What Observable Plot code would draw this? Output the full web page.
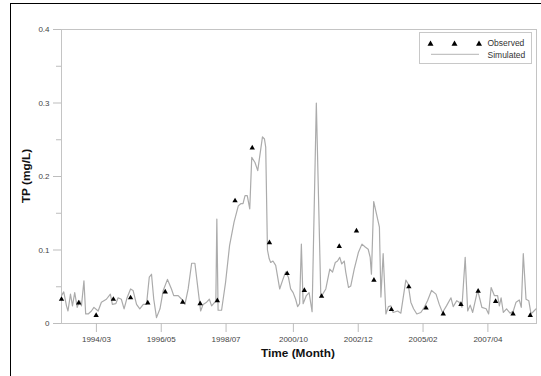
<!DOCTYPE html>
<html>
<head>
<meta charset="utf-8">
<script src="https://cdn.jsdelivr.net/npm/d3@7"></script>
<script src="https://cdn.jsdelivr.net/npm/@observablehq/plot@0.6"></script>
<style>
  html, body { margin: 0; padding: 0; background: #fff; overflow: hidden; }
  #wrap { position: relative; width: 541px; height: 376px; overflow: hidden; font-family: "Liberation Sans", Arial, sans-serif; }
  #border { position: absolute; left: 10px; top: 3px; width: 600px; height: 450px; border-left: 1.5px solid #000; border-top: 1.5px solid #000; pointer-events: none; }
  #chart { position: absolute; left: 0; top: 0; }
  .title { position: absolute; font-weight: bold; color: #111; white-space: nowrap; }
  #xtitle { left: 298px; top: 353px; font-size: 11.8px; transform: translate(-50%, -50%); }
  #ytitle { left: 26px; top: 176px; font-size: 11.8px; transform: translate(-50%, -50%) rotate(-90deg); }
  #legend { position: absolute; left: 418.5px; top: 32px; width: 111px; height: 30px; border: 1px solid #c8c8c8; background: #fff; }
  #legend svg { position: absolute; left: 0; top: 0; }
  .ltext { position: absolute; left: 68px; font-size: 8.5px; color: #333; line-height: 1; }
</style>
</head>
<body>
<div id="wrap">
  <div id="chart"></div>
  <div id="border"></div>
  <div id="xtitle" class="title">Time (Month)</div>
  <div id="ytitle" class="title">TP (mg/L)</div>
  <div id="legend">
    <svg width="111" height="30">
      <polygon points="10.5,7.5 7.5,12.8 13.5,12.8" fill="#000"/>
      <polygon points="34.5,7.5 31.5,12.8 37.5,12.8" fill="#000"/>
      <polygon points="59,7.5 56,12.8 62,12.8" fill="#000"/>
      <line x1="11" x2="59" y1="21.3" y2="21.3" stroke="#b5b5b5" stroke-width="1"/>
    </svg>
    <div class="ltext" style="top:5.5px">Observed</div>
    <div class="ltext" style="top:17.5px">Simulated</div>
  </div>
</div>
<script>
// Month index: 0 = 1993/01
const simMonth = [0,0.9,2,2.6,3.6,4.4,5.3,6.3,7.3,8,9,9.7,10.7,12,13,14.7,16,18,19.6,20.4,21.8,22.7,24,25.1,26.3,27.7,28.7,30.1,31.4,32.8,34.1,35.2,36.1,37,38.1,39.5,40.8,42.5,44.1,45,46.8,48.2,49.5,50.8,52.2,53.5,54.8,55.8,56.8,58.2,59.3,60.2,61.5,61.9,62.3,62.8,64.2,65.8,67.4,69.2,70.9,71.9,72.8,73.6,74.5,75.5,76.3,77.6,78.7,80.6,81.4,81.9,82.6,83.3,83.9,84.8,85.9,87.5,88.8,89.9,91,91.9,92.9,93.9,94.7,95.5,96.2,96.9,98.2,99.3,100.5,102.2,104,104.4,106,107.6,108.7,109.8,110.7,111.6,112.4,113.4,114,115.1,116,117.4,119.1,120.5,121.8,123,123.8,124.3,125.2,127.5,128.1,129,130.1,131.1,132.1,133,134.8,136.1,138.1,139,140.1,141.2,142.5,144.1,145.5,146.8,148.4,150.2,151.5,152.8,154.4,156.2,157.1,158.5,159.5,160.6,161.9,162.9,163.9,164.9,166.2,166.9,167.8,168.6,170.3,171.3,172.3,173.6,174.9,175.6,176.3,177.2,178.5,179.9,181.2,182.3,183.6,184.4,185.2,186.3,187.4,188.3,189.2,190.3];
const simTP = [0.038,0.043,0.024,0.017,0.040,0.024,0.042,0.022,0.031,0.024,0.058,0.013,0.013,0.017,0.022,0.017,0.029,0.033,0.040,0.026,0.027,0.035,0.033,0.020,0.035,0.047,0.045,0.026,0.020,0.026,0.026,0.063,0.067,0.033,0.008,0.020,0.045,0.060,0.047,0.038,0.038,0.033,0.026,0.047,0.082,0.082,0.045,0.017,0.026,0.029,0.033,0.024,0.029,0.030,0.142,0.018,0.018,0.056,0.106,0.138,0.160,0.163,0.163,0.174,0.174,0.156,0.226,0.219,0.208,0.254,0.251,0.240,0.100,0.088,0.083,0.085,0.079,0.047,0.060,0.070,0.063,0.047,0.042,0.033,0.023,0.027,0.108,0.027,0.038,0.042,0.016,0.300,0.037,0.038,0.047,0.074,0.070,0.083,0.085,0.090,0.081,0.085,0.070,0.049,0.051,0.074,0.097,0.108,0.104,0.101,0.090,0.067,0.166,0.131,0.036,0.095,0.013,0.023,0.024,0.015,0.017,0.014,0.059,0.054,0.029,0.020,0.013,0.015,0.022,0.031,0.045,0.040,0.026,0.015,0.024,0.035,0.023,0.031,0.029,0.022,0.090,0.017,0.025,0.015,0.035,0.045,0.033,0.022,0.020,0.013,0.049,0.038,0.038,0.024,0.035,0.015,0.020,0.014,0.017,0.029,0.032,0.022,0.095,0.033,0.031,0.013,0.016,0.020];

const obsMonth = [0,6.9,13.9,20.8,27.7,34.6,41.6,48.6,55.6,62.5,69.6,76.5,83.4,90.5,97.4,104.3,111.4,118.3,125.3,132.3,139.3,146.2,153.1,160.2,167.1,174.1,181.1,188];
const obsTP = [0.033,0.028,0.011,0.033,0.035,0.028,0.043,0.029,0.027,0.031,0.167,0.239,0.110,0.068,0.045,0.037,0.105,0.126,0.059,0.019,0.050,0.021,0.013,0.026,0.044,0.030,0.013,0.011];

const tickMonth = [14,40,66,93,119,145,171];
const tickLabel = ["1994/03","1996/05","1998/07","2000/10","2002/12","2005/02","2007/04"];
const yMajor = [0,0.1,0.2,0.3,0.4];
const yMinor = [0.05,0.15,0.25,0.35];

const sim = simMonth.map((m, i) => ({m, v: simTP[i]}));
const obs = obsMonth.map((m, i) => ({m, v: obsTP[i]}));

const chart = Plot.plot({
  width: 541,
  height: 376,
  marginLeft: 61,
  marginRight: 5,
  marginTop: 29,
  marginBottom: 53,
  style: {fontFamily: "'Liberation Sans', Arial, sans-serif", fontSize: "8px", background: "transparent"},
  x: {domain: [0, 190.5]},
  y: {domain: [0, 0.4]},
  marks: [
    Plot.frame({stroke: "#c4c4c4", strokeWidth: 1}),
    Plot.axisY({ticks: yMajor, tickSize: 8, tickPadding: 4, stroke: "#bdbdbd", fill: "#444", fontSize: 8, label: null, tickFormat: d => d === 0 ? "0" : d.toFixed(1)}),
    Plot.axisY({ticks: yMinor, tickSize: 5, stroke: "#bdbdbd", tickFormat: () => "", label: null}),
    Plot.axisX({ticks: tickMonth, tickSize: 9, tickPadding: 4, stroke: "#bdbdbd", fill: "#444", fontSize: 8, label: null, tickFormat: d => tickLabel[tickMonth.indexOf(d)]}),
    Plot.line(sim, {x: "m", y: "v", stroke: "#ababab", strokeWidth: 1.2}),
    Plot.dot(obs, {x: "m", y: "v", symbol: "triangle", r: 2, fill: "#000", stroke: "none"})
  ]
});
document.getElementById("chart").appendChild(chart);
</script>
</body>
</html>
